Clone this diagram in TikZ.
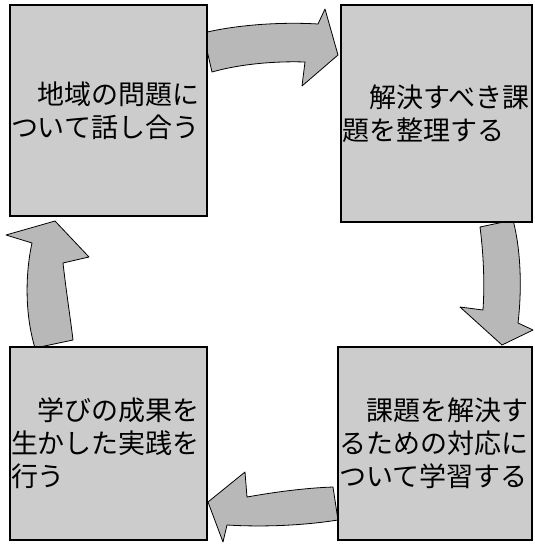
\documentclass[tikz,border=0pt]{standalone}
\usepackage{fontspec}
\setmainfont{Noto Sans CJK JP}
\usepackage{tikz}
\definecolor{cdcdcd}{rgb}{0.80,0.80,0.80}
\definecolor{bababa}{rgb}{0.72,0.72,0.72}
\begin{document}
\begin{tikzpicture}[x=1pt,y=-1pt,
	kadai/.style={draw=black,line width=1.6pt,fill=cdcdcd,rectangle,inner sep=1pt,align=left,font=\fontsize{27}{33}\selectfont},
	yajirushi/.style={draw=black,line width=0.8pt,fill=bababa,line join=round}]
			\useasboundingbox (0,0) rectangle (535,544);
			% block arrows
			\fill[yajirushi] (203,33) .. controls (240,24) and (285,22) .. (318,24) -- (325,9) -- (338,55) -- (302,86) -- (305,62) .. controls (275,61) and (240,64) .. (212,72) -- cycle;
			\fill[yajirushi] (480,227) -- (513,220) .. controls (521,250) and (522,290) .. (518,323) -- (533,330) -- (502,345) -- (460,307) -- (483,310) .. controls (485,280) and (483,250) .. (480,227) -- cycle;
			\fill[yajirushi] (333,487) .. controls (305,488) and (275,492) .. (247,497) -- (245,472) -- (208,502) -- (223,542) -- (227,525) .. controls (260,527) and (300,526) .. (338,520) -- cycle;
			\fill[yajirushi] (35,348) .. controls (25,315) and (25,275) .. (32,243) -- (6,235) -- (55,221) -- (89,257) -- (63,263) .. controls (66,290) and (70,315) .. (73,340) -- cycle;
			% boxes
			\node[kadai,text width=195pt,minimum height=211pt] (hanashiai) at (108.5,110.5) {　地域の問題に\\ついて話し合う};
			\node[kadai,text width=189pt,minimum height=217pt] (seiri) at (436.5,113.5) {　解決すべき課\\題を整理する};
			\node[kadai,text width=192pt,minimum height=193pt] (gakushu) at (435,443.5) {　課題を解決す\\るための対応に\\ついて学習する};
			\node[kadai,text width=195pt,minimum height=193pt] (jissen) at (108.5,443.5) {　学びの成果を\\生かした実践を\\行う};
			\end{tikzpicture}
\end{document}
